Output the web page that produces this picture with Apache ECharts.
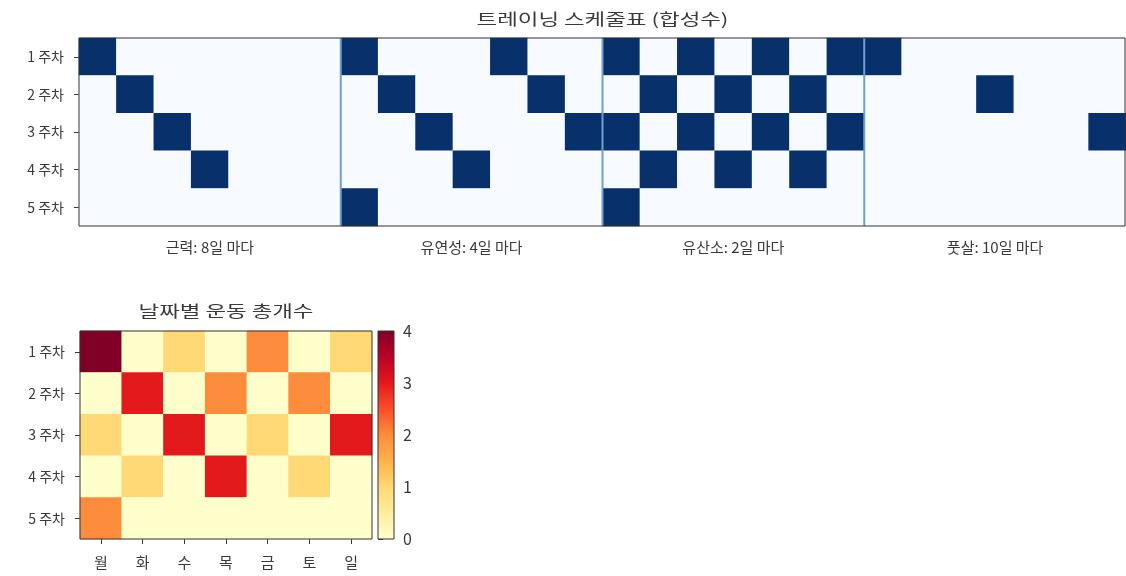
<!DOCTYPE html>
<html>
<head>
<meta charset="utf-8">
<script src="https://cdn.jsdelivr.net/npm/echarts@6/dist/echarts.min.js"></script>
<style>
  html, body { margin: 0; padding: 0; background: #fff; }
  #main { width: 1126px; height: 576px; }
</style>
</head>
<body>
<div id="main"></div>
<script>
// Week rows and weekday columns
const weeks = ['1 주차', '2 주차', '3 주차', '4 주차', '5 주차'];
const days = ['월', '화', '수', '목', '금', '토', '일'];
const activities = ['근력: 8일 마다', '유연성: 4일 마다', '유산소: 2일 마다', '풋살: 10일 마다'];

// Schedules: 1 = training on that day (rows = weeks, columns = weekdays)
const strength = [
  [1, 0, 0, 0, 0, 0, 0],
  [0, 1, 0, 0, 0, 0, 0],
  [0, 0, 1, 0, 0, 0, 0],
  [0, 0, 0, 1, 0, 0, 0],
  [0, 0, 0, 0, 0, 0, 0]
];
const flexibility = [
  [1, 0, 0, 0, 1, 0, 0],
  [0, 1, 0, 0, 0, 1, 0],
  [0, 0, 1, 0, 0, 0, 1],
  [0, 0, 0, 1, 0, 0, 0],
  [1, 0, 0, 0, 0, 0, 0]
];
const cardio = [
  [1, 0, 1, 0, 1, 0, 1],
  [0, 1, 0, 1, 0, 1, 0],
  [1, 0, 1, 0, 1, 0, 1],
  [0, 1, 0, 1, 0, 1, 0],
  [1, 0, 0, 0, 0, 0, 0]
];
const futsal = [
  [1, 0, 0, 0, 0, 0, 0],
  [0, 0, 0, 1, 0, 0, 0],
  [0, 0, 0, 0, 0, 0, 1],
  [0, 0, 0, 0, 0, 0, 0],
  [0, 0, 0, 0, 0, 0, 0]
];

// Total number of workouts per day
const dailyTotals = [
  [4, 0, 1, 0, 2, 0, 1],
  [0, 3, 0, 2, 0, 2, 0],
  [1, 0, 3, 0, 1, 0, 3],
  [0, 1, 0, 3, 0, 1, 0],
  [2, 0, 0, 0, 0, 0, 0]
];
const colorbarTicks = [0, 1, 2, 3, 4];

// ---- layout ----
const FONT = '"Noto Sans CJK KR", "Noto Sans", sans-serif';
const TEXT = '#3a3a3a';
const topGrid = { left: 79, top: 38, width: 1047, height: 188 };
const botGrid = { left: 80, top: 331, width: 292, height: 208 };
const cbarGrid = { left: 378, top: 331, width: 16, height: 208 };

const schedules = [strength, flexibility, cardio, futsal];
const scheduleCols = [];
schedules.forEach((s, a) => days.forEach((d, j) => scheduleCols.push(a * days.length + j)));

const scheduleData = [];
schedules.forEach((s, a) => {
  s.forEach((row, i) => row.forEach((v, j) => {
    scheduleData.push([a * days.length + j, i, v]);
  }));
});

const totalsData = [];
dailyTotals.forEach((row, i) => row.forEach((v, j) => totalsData.push([j, i, v])));

const ylOrRd = ['#ffffcc', '#ffeda0', '#fed976', '#feb24c', '#fd8d3c',
                '#fc4e2a', '#e31a1c', '#bd0026', '#800026'];

// Boundaries between activity blocks
const boundaries = [1, 2, 3].map(k => k * days.length);
const separatorSeries = boundaries.map(b => ({
  type: 'line',
  xAxisIndex: 1,
  yAxisIndex: 1,
  data: [[b, 0], [b, weeks.length]],
  symbol: 'none',
  silent: true,
  z: 5,
  lineStyle: { color: '#6f9fd2', width: 2 }
}));

const tickStyle = { show: true, length: 5, lineStyle: { color: TEXT, width: 1 } };
const labelStyle = { color: TEXT, fontFamily: FONT, fontSize: 14 };

const chart = echarts.init(document.getElementById('main'), null, { renderer: 'canvas' });

chart.setOption({
  animation: false,
  backgroundColor: '#fff',
  grid: [
    Object.assign({ containLabel: false }, topGrid),
    Object.assign({ containLabel: false }, botGrid),
    Object.assign({ containLabel: false }, cbarGrid)
  ],
  xAxis: [
    {
      type: 'category', gridIndex: 0, data: scheduleCols,
      axisLine: { show: false },
      axisTick: Object.assign({}, tickStyle, { alignWithLabel: true, interval: i => i % 7 === 3 }),
      axisLabel: Object.assign({}, labelStyle, {
        fontSize: 15,
        interval: i => i % 7 === 3,
        margin: 14,
        formatter: (v, i) => activities[Math.floor(i / days.length)]
      }),
      splitLine: { show: false }
    },
    { type: 'value', gridIndex: 0, min: 0, max: scheduleCols.length, show: false },
    {
      type: 'category', gridIndex: 1, data: days,
      axisLine: { show: false },
      axisTick: Object.assign({}, tickStyle, { alignWithLabel: true }),
      axisLabel: Object.assign({}, labelStyle, { fontSize: 15, margin: 16 }),
      splitLine: { show: false }
    },
    { type: 'value', gridIndex: 2, min: 0, max: 1, show: false }
  ],
  yAxis: [
    {
      type: 'category', gridIndex: 0, data: weeks, inverse: true,
      axisLine: { show: false },
      axisTick: Object.assign({}, tickStyle, { alignWithLabel: true }),
      axisLabel: Object.assign({}, labelStyle, { margin: 15 }),
      splitLine: { show: false }
    },
    { type: 'value', gridIndex: 0, min: 0, max: weeks.length, inverse: true, show: false },
    {
      type: 'category', gridIndex: 1, data: weeks, inverse: true,
      axisLine: { show: false },
      axisTick: Object.assign({}, tickStyle, { alignWithLabel: true }),
      axisLabel: Object.assign({}, labelStyle, { margin: 15 }),
      splitLine: { show: false }
    },
    {
      type: 'value', gridIndex: 2, position: 'right',
      min: colorbarTicks[0], max: colorbarTicks[colorbarTicks.length - 1], interval: 1,
      axisLine: { show: false },
      axisTick: Object.assign({}, tickStyle),
      axisLabel: Object.assign({}, labelStyle, { fontSize: 16, margin: 9 }),
      splitLine: { show: false }
    }
  ],
  visualMap: [
    {
      type: 'continuous', show: false, seriesIndex: 0, dimension: 2,
      min: 0, max: 1, inRange: { color: ['#f7fbff', '#08306b'] }
    },
    {
      type: 'continuous', show: false, seriesIndex: 1, dimension: 2,
      min: 0, max: 4, inRange: { color: ylOrRd }
    }
  ],
  series: [
    {
      type: 'heatmap', xAxisIndex: 0, yAxisIndex: 0,
      data: scheduleData, silent: true,
      itemStyle: { borderWidth: 0 }
    },
    {
      type: 'heatmap', xAxisIndex: 2, yAxisIndex: 2,
      data: totalsData, silent: true,
      itemStyle: { borderWidth: 0 }
    }
  ].concat(separatorSeries),
  graphic: [
    // chart titles, slightly stretched to the wide lettering
    {
      type: 'text', z: 100,
      x: topGrid.left + topGrid.width / 2, y: 19, scaleX: 1.4,
      style: {
        text: '트레이닝 스케줄표 (합성수)', fill: TEXT, font: '16px ' + FONT,
        textAlign: 'center', textVerticalAlign: 'middle'
      }
    },
    {
      type: 'text', z: 100,
      x: botGrid.left + botGrid.width / 2, y: 311, scaleX: 1.4,
      style: {
        text: '날짜별 운동 총개수', fill: TEXT, font: '16px ' + FONT,
        textAlign: 'center', textVerticalAlign: 'middle'
      }
    },
    {
      type: 'rect', z: 1,
      shape: { x: cbarGrid.left, y: cbarGrid.top, width: cbarGrid.width, height: cbarGrid.height },
      style: {
        fill: {
          type: 'linear', x: 0, y: 1, x2: 0, y2: 0,
          colorStops: ylOrRd.map((c, k) => ({ offset: k / (ylOrRd.length - 1), color: c }))
        },
        stroke: null
      }
    },
    {
      type: 'rect', z: 100, silent: true,
      shape: { x: topGrid.left, y: topGrid.top, width: topGrid.width - 1, height: topGrid.height },
      style: { fill: null, stroke: '#333', lineWidth: 1 }
    },
    {
      type: 'rect', z: 100, silent: true,
      shape: { x: botGrid.left, y: botGrid.top, width: botGrid.width, height: botGrid.height },
      style: { fill: null, stroke: '#333', lineWidth: 1 }
    },
    {
      type: 'rect', z: 100, silent: true,
      shape: { x: cbarGrid.left, y: cbarGrid.top, width: cbarGrid.width, height: cbarGrid.height },
      style: { fill: null, stroke: '#333', lineWidth: 1 }
    }
  ]
});
</script>
</body>
</html>
